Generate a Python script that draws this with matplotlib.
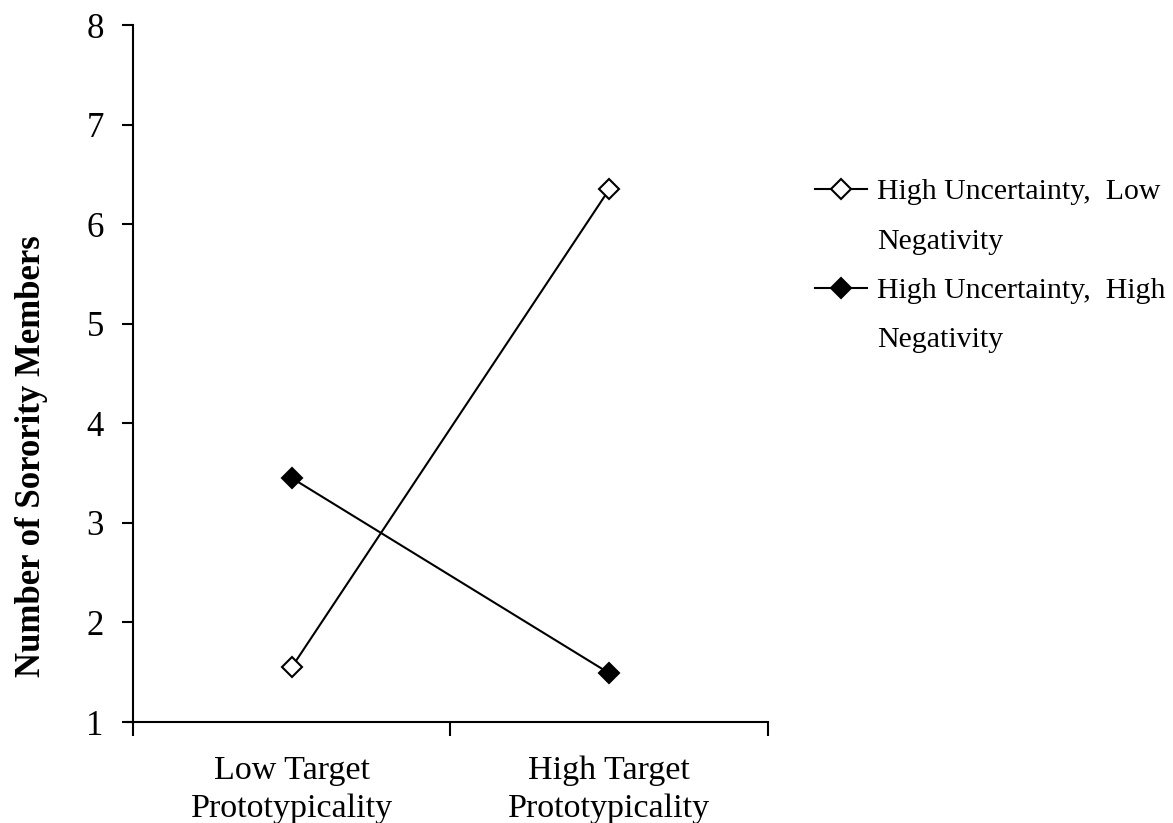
import matplotlib
matplotlib.use("Agg")
import matplotlib.pyplot as plt
from matplotlib.lines import Line2D
from matplotlib.ticker import FixedLocator

plt.rcParams["font.family"] = ["Liberation Serif", "DejaVu Serif"]

categories = ["Low Target\nPrototypicality", "High Target\nPrototypicality"]
low_neg = [1.55, 6.35]
high_neg = [3.45, 1.49]
legend_rows = ["High Uncertainty,  Low", "Negativity", "High Uncertainty,  High", "Negativity"]
yticks = [1, 2, 3, 4, 5, 6, 7, 8]

fig = plt.figure(figsize=(11.73, 8.23), dpi=100)
ax = fig.add_axes([0.1134, 0.1227, 0.5413, 0.8469])

x = list(range(len(categories)))
l1, = ax.plot(x, low_neg, color="black", lw=1.5, marker="D", ms=10,
              mfc="white", mec="black", mew=1.5)
l2, = ax.plot(x, high_neg, color="black", lw=1.5, marker="D", ms=10,
              mfc="black", mec="black", mew=1.5)

ax.set_xlim(-0.5, len(categories) - 0.5)
ax.set_ylim(1, 8)
ax.set_yticks(yticks)
ax.set_xticks(x)
ax.set_xticklabels(categories, fontsize=24.5, linespacing=1.32)
ax.xaxis.set_minor_locator(FixedLocator([-0.5, 0.5, 1.5]))
ax.tick_params(axis="x", which="major", length=0, pad=24)
ax.tick_params(axis="x", which="minor", length=10, width=1.5, direction="out")
ax.tick_params(axis="y", length=8, width=1.5, direction="out", labelsize=25, pad=13)
for side in ("top", "right"):
    ax.spines[side].set_visible(False)
for side in ("left", "bottom"):
    ax.spines[side].set_linewidth(1.5)
ax.spines["bottom"].set_bounds(-0.5 - 0.02, 1.5)

fig.text(0.027, 0.446, "Number of Sorority Members", rotation=90, ha="center",
         va="center", fontsize=25, fontweight="bold")

blank = Line2D([], [], color="none")
leg = fig.legend(handles=[l1, blank, l2, blank], labels=legend_rows,
                 loc="upper left", bbox_to_anchor=(0.6945, 0.783), frameon=False,
                 fontsize=21.5, handlelength=1.75, handletextpad=0.35,
                 labelspacing=0.75, borderaxespad=0, borderpad=0)

fig.savefig("out.png", dpi=100)
